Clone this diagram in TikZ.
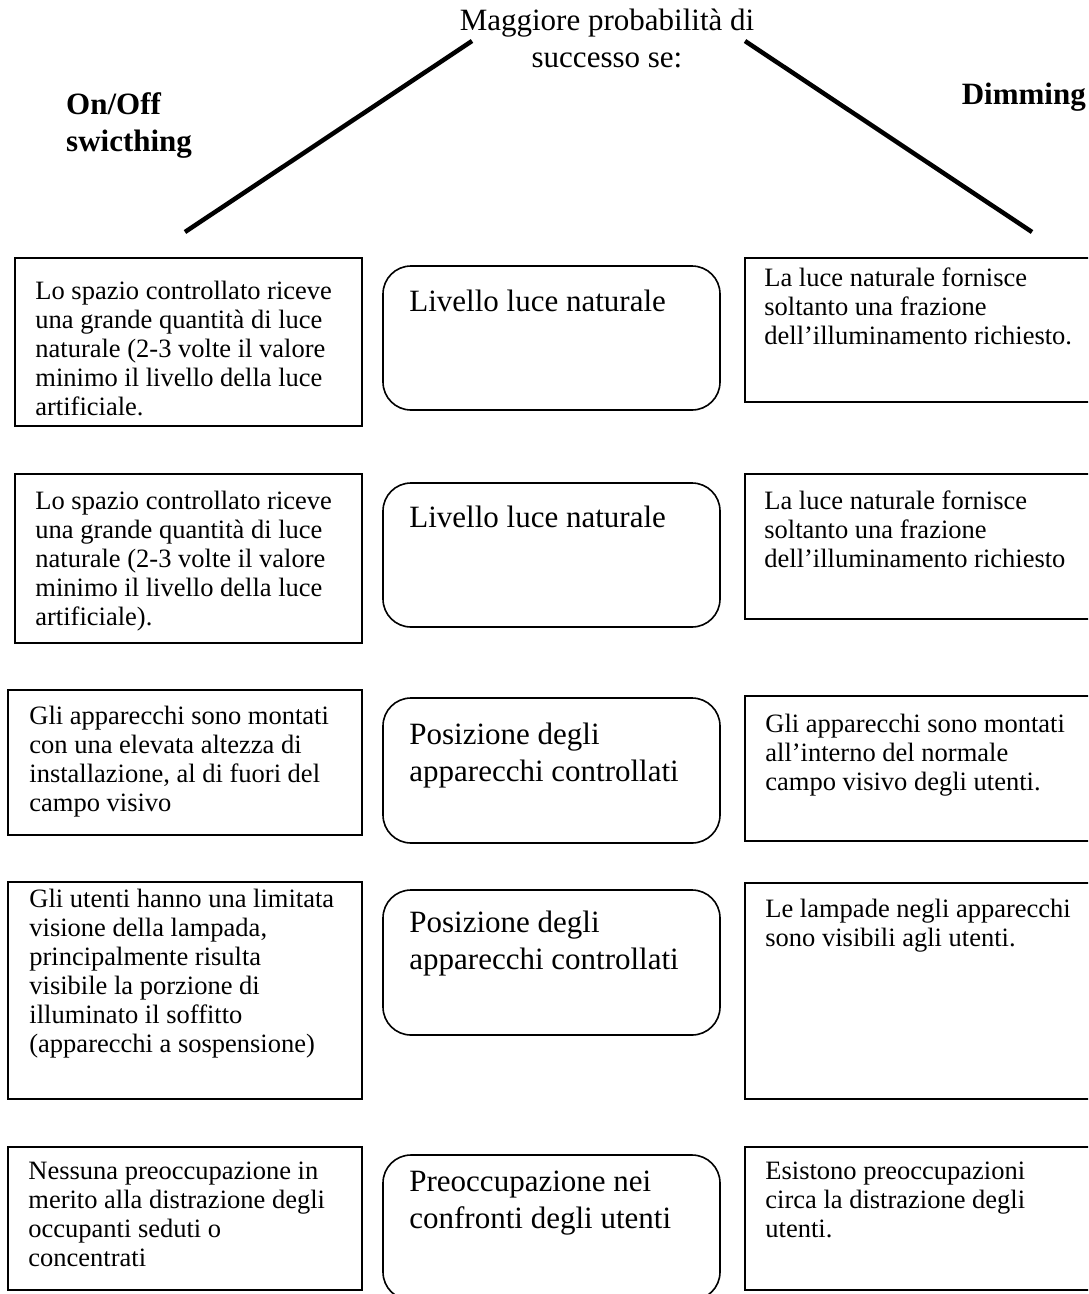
\documentclass[tikz,border=0pt]{standalone}
\usepackage{fontspec}
\setmainfont{Liberation Serif}
\begin{document}
\begin{tikzpicture}[x=1pt,y=-1pt,line join=miter]
\tikzstyle{box}=[draw,line width=1.6pt,inner sep=0pt]
\tikzstyle{rbox}=[box,rounded corners=28pt]
\tikzstyle{txt}=[anchor=base west,inner sep=0pt,align=left,font=\fontsize{26.5}{29}\selectfont]
\tikzstyle{big}=[anchor=base west,inner sep=0pt,align=left,font=\fontsize{31}{37}\selectfont]
\tikzstyle{head}=[inner sep=0pt,align=left,font=\fontsize{31}{37}\selectfont\bfseries]
\useasboundingbox (0,0) rectangle (1088,1294);
\clip (0,0) rectangle (1088,1294);
% titles (base anchor = last line)
\node (t) [anchor=base,inner sep=0pt,align=center,font=\fontsize{31}{37}\selectfont] at (607,67) {Maggiore probabilità di\\successo se:};
\node (on) [head,anchor=base west] at (66,151) {On/Off\\swicthing};
\node (dim) [head,anchor=base east] at (1086,104) {Dimming};
\coordinate (l1) at (472,41);
\coordinate (l2) at (185,232);
\coordinate (r1) at (745,41);
\coordinate (r2) at (1032,232);
\draw[line width=4.5pt] (l1) -- (l2);
\draw[line width=4.5pt] (r1) -- (r2);
% boxes
\node (a) [box,minimum width=347pt,minimum height=168pt] at (188.5,342) {};
\node (a') [rbox,minimum width=337pt,minimum height=144pt] at (551.5,338) {};
\node (a'') [box,minimum width=355pt,minimum height=144pt] at (922.5,330) {};
\node (b) [box,minimum width=347pt,minimum height=169pt] at (188.5,558.5) {};
\node (b') [rbox,minimum width=337pt,minimum height=144pt] at (551.5,555) {};
\node (b'') [box,minimum width=355pt,minimum height=145pt] at (922.5,546.5) {};
\node (c) [box,minimum width=354pt,minimum height=145pt] at (185,762.5) {};
\node (c') [rbox,minimum width=337pt,minimum height=145pt] at (551.5,770.5) {};
\node (c'') [box,minimum width=355pt,minimum height=145pt] at (922.5,768.5) {};
\node (d) [box,minimum width=354pt,minimum height=217pt] at (185,990.5) {};
\node (d') [rbox,minimum width=337pt,minimum height=145pt] at (551.5,962.5) {};
\node (d'') [box,minimum width=355pt,minimum height=216pt] at (922.5,991) {};
\node (e) [box,minimum width=354pt,minimum height=143pt] at (185,1218.5) {};
\node (e') [rbox,minimum width=337pt,minimum height=145pt] at (551.5,1227.5) {};
\node (e'') [box,minimum width=355pt,minimum height=143pt] at (922.5,1218.5) {};
% texts (placed by the baseline of their last line)
\node (ta) [txt] at ([shift={(21,158)}]a.north west) {Lo spazio controllato riceve\\una grande quantità di luce\\naturale (2-3 volte il valore\\minimo il livello della luce\\artificiale.};
\node (ta') [big] at ([shift={(27,46)}]a'.north west) {Livello luce naturale};
\node (ta'') [txt] at ([shift={(20,87)}]a''.north west) {La luce naturale fornisce\\soltanto una frazione\\dell’illuminamento richiesto.};
\node (tb) [txt] at ([shift={(21,152)}]b.north west) {Lo spazio controllato riceve\\una grande quantità di luce\\naturale (2-3 volte il valore\\minimo il livello della luce\\artificiale).};
\node (tb') [big] at ([shift={(27,45)}]b'.north west) {Livello luce naturale};
\node (tb'') [txt] at ([shift={(20,94)}]b''.north west) {La luce naturale fornisce\\soltanto una frazione\\dell’illuminamento richiesto};
\node (tc) [txt] at ([shift={(22,122)}]c.north west) {Gli apparecchi sono montati\\con una elevata altezza di\\installazione, al di fuori del\\campo visivo};
\node (tc') [big] at ([shift={(27,84)}]c'.north west) {Posizione degli\\apparecchi controllati};
\node (tc'') [txt] at ([shift={(21,95)}]c''.north west) {Gli apparecchi sono montati\\all’interno del normale\\campo visivo degli utenti.};
\node (td) [txt] at ([shift={(22,171)}]d.north west) {Gli utenti hanno una limitata\\visione della lampada,\\principalmente risulta\\visibile la porzione di\\illuminato il soffitto\\(apparecchi a sospensione)};
\node (td') [big] at ([shift={(27,80)}]d'.north west) {Posizione degli\\apparecchi controllati};
\node (td'') [txt] at ([shift={(21,64)}]d''.north west) {Le lampade negli apparecchi\\sono visibili agli utenti.};
\node (te) [txt] at ([shift={(21,120)}]e.north west) {Nessuna preoccupazione in\\merito alla distrazione degli\\occupanti seduti o\\concentrati};
\node (te') [big] at ([shift={(27,74)}]e'.north west) {Preoccupazione nei\\confronti degli utenti};
\node (te'') [txt] at ([shift={(21,91)}]e''.north west) {Esistono preoccupazioni\\circa la distrazione degli\\utenti.};
\end{tikzpicture}
\end{document}
